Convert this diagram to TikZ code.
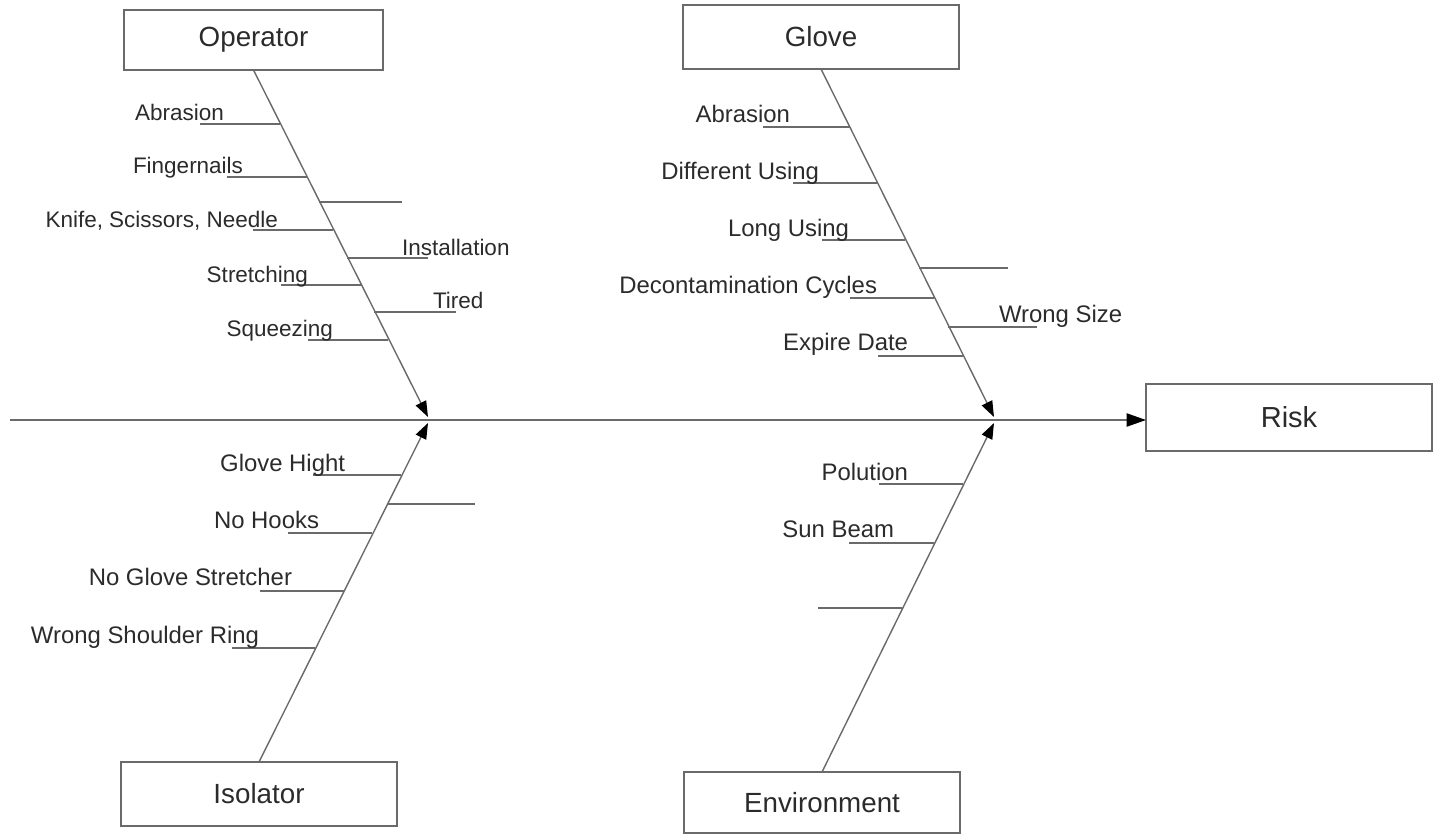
\documentclass[tikz,border=0pt]{standalone}
\usepackage{fontspec}
\setmainfont{Liberation Sans}
\usetikzlibrary{arrows.meta}
\definecolor{linec}{HTML}{6A6A6A}
\definecolor{textc}{HTML}{2B2B2B}
\begin{document}
\begin{tikzpicture}[x=0.02cm,y=-0.02cm,
  box/.style={draw=linec, line width=0.9pt, inner sep=0pt, outer sep=0pt, text=textc, font=\fontsize{15.8}{18}\selectfont},
  bone/.style={draw=linec, line width=0.8pt},
  branch/.style={draw=linec, line width=0.8pt},
  lbl/.style={inner sep=0pt, outer sep=0pt, text=textc, font=\fontsize{13.6}{16}\selectfont},
  lbls/.style={inner sep=0pt, outer sep=0pt, text=textc, font=\fontsize{12.8}{15}\selectfont},
  tipb/.style={-{Triangle[length=9pt,width=6.5pt,color=black]}}]
\useasboundingbox (0,0) rectangle (1435,835);

% category boxes
\node[box, minimum width=5.18cm, minimum height=1.2cm] (op) at (253.5,40) {Operator};
\node[box, minimum width=5.52cm, minimum height=1.28cm] (gl) at (821,37) {Glove};
\node[box, minimum width=5.52cm, minimum height=1.28cm] (iso) at (259,794) {Isolator};
\node[box, minimum width=5.52cm, minimum height=1.22cm] (env) at (822,802.5) {Environment};
\node[box, minimum width=5.72cm, minimum height=1.34cm, font=\fontsize{16.5}{19}\selectfont] (risk) at (1289,417.5) {Risk};

% spine
\coordinate (S0) at (10,420);
\coordinate (J1t) at (428,417);
\coordinate (J1b) at (428,423);
\coordinate (J2t) at (994,417);
\coordinate (J2b) at (994,423);
\draw[bone, -{Triangle[length=11pt,width=7.5pt,color=black]}] (S0) -- (S0 -| risk.west);

% bones
\draw[bone, tipb] (op.south) -- (J1t);
\draw[bone, tipb] (iso.north) -- (J1b);
\draw[bone, tipb] (gl.south) -- (J2t);
\draw[bone, tipb] (env.north) -- (J2b);

% Operator branches
\coordinate (o1) at (280.4,124); \coordinate (o1e) at (200,124);
\coordinate (o2) at (306.9,177); \coordinate (o2e) at (227,177);
\coordinate (o3) at (319.3,202); \coordinate (o3e) at (402,202);
\coordinate (o4) at (333.3,230); \coordinate (o4e) at (253,230);
\coordinate (o5) at (347.2,258); \coordinate (o5e) at (428,258);
\coordinate (o6) at (360.7,285); \coordinate (o6e) at (281,285);
\coordinate (o7) at (374.2,312); \coordinate (o7e) at (456,312);
\coordinate (o8) at (388.1,340); \coordinate (o8e) at (308,340);
\foreach \b in {o1,o2,o3,o4,o5,o6,o7,o8} {\draw[branch] (\b) -- (\b e);}
\node[lbls, anchor=base east] (lo1) at (224,120) {Abrasion};
\node[lbls, anchor=base east] (lo2) at (243,173) {Fingernails};
\node[lbls, anchor=base east] (lo4) at (278,227) {Knife, Scissors, Needle};
\node[lbls, anchor=base west] (lo5) at (402,255) {Installation};
\node[lbls, anchor=base east] (lo6) at (308,282) {Stretching};
\node[lbls, anchor=base west] (lo7) at (433,308) {Tired};
\node[lbls, anchor=base east] (lo8) at (333,336) {Squeezing};

% Glove branches
\coordinate (g1) at (849.6,127); \coordinate (g1e) at (763,127);
\coordinate (g2) at (877.2,183); \coordinate (g2e) at (793,183);
\coordinate (g3) at (905.3,240); \coordinate (g3e) at (822,240);
\coordinate (g4) at (919.1,268); \coordinate (g4e) at (1008,268);
\coordinate (g5) at (933.9,298); \coordinate (g5e) at (850,298);
\coordinate (g6) at (948.2,327); \coordinate (g6e) at (1037,327);
\coordinate (g7) at (962.5,356); \coordinate (g7e) at (878,356);
\foreach \b in {g1,g2,g3,g4,g5,g6,g7} {\draw[branch] (\b) -- (\b e);}
\node[lbl, anchor=base east] (lg1) at (790,122) {Abrasion};
\node[lbl, anchor=base east] (lg2) at (819,179) {Different Using};
\node[lbl, anchor=base east] (lg3) at (849,236) {Long Using};
\node[lbl, anchor=base east] (lg5) at (877,293) {Decontamination Cycles};
\node[lbl, anchor=base west] (lg6) at (999,322) {Wrong Size};
\node[lbl, anchor=base east] (lg7) at (908,350) {Expire Date};

% Isolator branches
\coordinate (i1) at (400.8,475); \coordinate (i1e) at (313,475);
\coordinate (i2) at (386.5,504); \coordinate (i2e) at (475,504);
\coordinate (i3) at (372.2,533); \coordinate (i3e) at (288,533);
\coordinate (i4) at (343.5,591); \coordinate (i4e) at (260,591);
\coordinate (i5) at (315.3,648); \coordinate (i5e) at (232,648);
\foreach \b in {i1,i2,i3,i4,i5} {\draw[branch] (\b) -- (\b e);}
\node[lbl, anchor=base east] (li1) at (345,471) {Glove Hight};
\node[lbl, anchor=base east] (li3) at (319,528) {No Hooks};
\node[lbl, anchor=base east] (li4) at (292,585) {No Glove Stretcher};
\node[lbl, anchor=base east] (li5) at (259,643) {Wrong Shoulder Ring};

% Environment branches
\coordinate (e1) at (962.7,484); \coordinate (e1e) at (879,484);
\coordinate (e2) at (933.9,543); \coordinate (e2e) at (849,543);
\coordinate (e3) at (902.1,608); \coordinate (e3e) at (818,608);
\foreach \b in {e1,e2,e3} {\draw[branch] (\b) -- (\b e);}
\node[lbl, anchor=base east] (le1) at (908,480) {Polution};
\node[lbl, anchor=base east] (le2) at (894,537) {Sun Beam};
\end{tikzpicture}
\end{document}
